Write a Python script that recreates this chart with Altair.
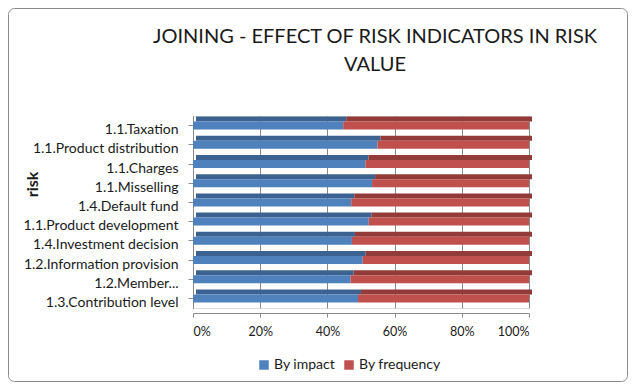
import altair as alt
import pandas as pd

categories = ["1.1.Taxation", "1.1.Product distribution", "1.1.Charges", "1.1.Misselling",
              "1.4.Default fund", "1.1.Product development", "1.4.Investment decision",
              "1.2.Information provision", "1.2.Member...", "1.3.Contribution level"]
by_impact = [44.7, 54.9, 51.3, 53.3, 47.1, 52.3, 47.3, 50.5, 46.9, 49.1]
by_frequency = [55.3, 45.1, 48.7, 46.7, 52.9, 47.7, 52.7, 49.5, 53.1, 50.9]
series = ["By impact", "By frequency"]
front_colors = ["#4F81BD", "#C0504D"]
top_colors = ["#3B6290", "#933B39"]
x_ticks = [0, 0.2, 0.4, 0.6, 0.8, 1.0]
title_lines = ["JOINING - EFFECT OF RISK INDICATORS IN RISK", "VALUE"]

rows = []
for c, a, b in zip(categories, by_impact, by_frequency):
    rows.append({"risk": c, "series": series[0], "value": a, "ord": 0})
    rows.append({"risk": c, "series": series[1], "value": b, "ord": 1})
df = pd.DataFrame(rows)

FONT = "Lato"
W, H = 336, 192

x_enc = alt.X("value:Q", stack="normalize",
              scale=alt.Scale(domain=[0, 1], nice=False),
              axis=alt.Axis(format="%", values=x_ticks, title=None, grid=True,
                            gridColor="#8a8a8a", domainColor="#8a8a8a", tickColor="#8a8a8a",
                            tickSize=4, labelPadding=8, offset=5, labelFontSize=12.5,
                            labelColor="#1a1a1a", labelFont=FONT))
y_enc = alt.Y("risk:N", sort=categories,
              scale=alt.Scale(paddingInner=0, paddingOuter=0),
              axis=alt.Axis(title="risk", titleFont=FONT, titleFontSize=16, titleFontWeight="bold",
                            titleColor="#1a1a1a", titleAngle=-90, titleX=-161, titleY=68,
                            titleAlign="center", titleBaseline="middle",
                            labelFont=FONT, labelFontSize=14, labelColor="#1a1a1a",
                            labelPadding=10, labelOffset=4.5, tickSize=5, tickColor="#8a8a8a",
                            domainColor="#8a8a8a", labelLimit=220))

front = alt.Chart(df).mark_bar(size=8, yOffset=0).encode(
    x=x_enc, y=y_enc,
    color=alt.Color("series:N", sort=series,
                    scale=alt.Scale(domain=series, range=front_colors),
                    legend=alt.Legend(title=None, orient="none", direction="horizontal",
                                      legendX=64, legendY=242, symbolType="square",
                                      symbolSize=90, symbolStrokeWidth=0, labelFont=FONT,
                                      labelFontSize=14, labelColor="#1a1a1a", labelOffset=3,
                                      columnPadding=6, symbolOffset=0)),
    order=alt.Order("ord:Q"),
)
top = alt.Chart(df).mark_bar(size=5, yOffset=-6.5, xOffset=3).encode(
    x=x_enc, y=y_enc,
    color=alt.Color("series:N", sort=series,
                    scale=alt.Scale(domain=series, range=top_colors), legend=None),
    order=alt.Order("ord:Q"),
)

border = alt.Chart(pd.DataFrame({"a": [0]})).mark_rect(
    fill=None, stroke="#8a8a8a", strokeWidth=1, cornerRadius=6, clip=False
).encode(x=alt.value(-184.5), x2=alt.value(434.5), y=alt.value(-107.5), y2=alt.value(265.5))

title_df = pd.DataFrame({"t": title_lines, "i": [0, 1]})
title1 = alt.Chart(title_df).transform_filter("datum.i == 0").mark_text(
    font=FONT, fontSize=20, color="#1a1a1a", align="center", baseline="alphabetic"
).encode(text="t:N", x=alt.value(182), y=alt.value(-73))
title2 = alt.Chart(title_df).transform_filter("datum.i == 1").mark_text(
    font=FONT, fontSize=20, color="#1a1a1a", align="center", baseline="alphabetic"
).encode(text="t:N", x=alt.value(182), y=alt.value(-45))

chart = alt.layer(border, title1, title2, top, front).resolve_scale(color="independent").properties(
    width=W, height=H,
    autosize=alt.AutoSizeParams(type="none"),
    padding={"left": 185, "top": 108, "right": 99, "bottom": 74},
).configure_view(stroke=None).configure(background="white")

chart.save("out.html", embed_options={"renderer": "svg", "actions": False})
